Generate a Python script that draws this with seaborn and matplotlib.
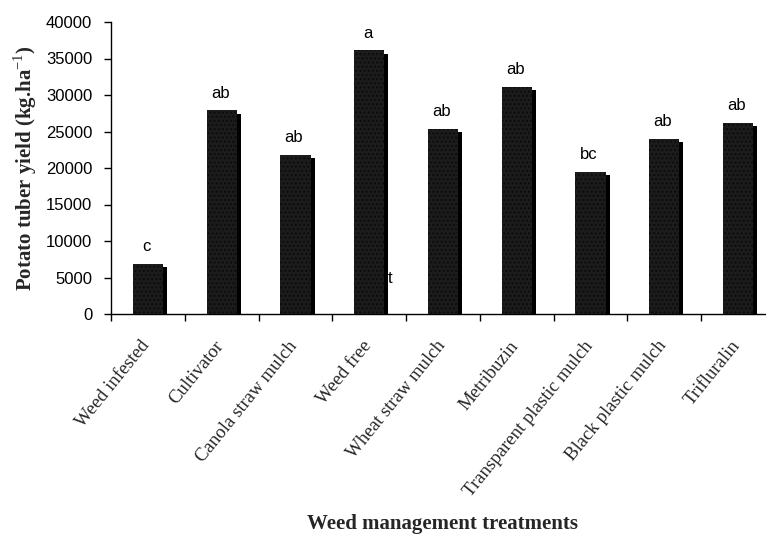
import matplotlib
matplotlib.use("Agg")
import matplotlib.pyplot as plt
import matplotlib.transforms as mtransforms
import seaborn as sns
import pandas as pd

treatments = ["Weed infested", "Cultivator", "Canola straw mulch", "Weed free",
              "Wheat straw mulch", "Metribuzin", "Transparent plastic mulch",
              "Black plastic mulch", "Trifluralin"]
yield_kg_ha = [6900, 27900, 21800, 36100, 25400, 31100, 19500, 24000, 26200]
letters = ["c", "ab", "ab", "a", "ab", "ab", "bc", "ab", "ab"]
y_ticks = [0, 5000, 10000, 15000, 20000, 25000, 30000, 35000, 40000]

df = pd.DataFrame({"treatment": treatments, "yield": yield_kg_ha})

sns.set_theme(style="ticks")
plt.rcParams["font.family"] = ["Liberation Sans", "DejaVu Sans"]
plt.rcParams["mathtext.fontset"] = "custom"
plt.rcParams["mathtext.rm"] = "Liberation Serif"
plt.rcParams["mathtext.bf"] = "Liberation Serif:bold"

fig = plt.figure(figsize=(7.66, 5.35), dpi=100)
W, H = 766, 535
left, right, bottom, top = 111, 775, 314, 22
ax = fig.add_axes([left / W, (H - bottom) / H, (right - left) / W, (bottom - top) / H])

bar_w = 0.41
# shadow bars, shifted right and down by a few pixels
shadow = mtransforms.offset_copy(ax.transData, fig=fig, x=4, y=-3.3, units="dots")
sns.barplot(data=df, x="treatment", y="yield", color="black", saturation=1,
            width=bar_w, ax=ax, linewidth=0, zorder=2)
for p in ax.patches:
    p.set_transform(shadow)
    p.set_clip_on(True)
n_shadow = len(ax.patches)
sns.barplot(data=df, x="treatment", y="yield", color="#1c1c1c", saturation=1,
            width=bar_w, ax=ax, linewidth=0, zorder=3)
for p in ax.patches[n_shadow:]:
    p.set_hatch("....")
    p.set_edgecolor("#0c0c0c")
    p.set_linewidth(0)

for i, (v, lab) in enumerate(zip(yield_kg_ha, letters)):
    ax.annotate(lab, (i, v), xytext=(-1, 7), textcoords="offset points",
                ha="center", va="bottom", fontsize=12, color="black")

ax.text(3.28, 4800, "t", fontsize=12, color="black", ha="center", va="center")

ax.set_xlim(-0.5, 8.5)
ax.set_ylim(0, 40000)
ax.set_yticks(y_ticks)
ax.set_yticklabels([str(t) for t in y_ticks], fontsize=12)
ax.set_xticks([i - 0.5 for i in range(len(treatments) + 1)])
ax.set_xticklabels([])
for i, name in enumerate(treatments):
    ax.annotate(name, (i, 0), xytext=(-5.5, -17), textcoords="offset points",
                rotation=51, ha="right", va="top", rotation_mode="anchor",
                fontsize=13.5, family="Liberation Serif", annotation_clip=False)

ax.tick_params(axis="both", direction="out", length=5, width=1, color="black",
               labelcolor="black")
ax.tick_params(axis="y", pad=8.5)
for side in ["top", "right"]:
    ax.spines[side].set_visible(False)
for side in ["left", "bottom"]:
    ax.spines[side].set_color("black")
    ax.spines[side].set_linewidth(1)
ax.grid(False)

ax.set_xlabel("")
ax.set_ylabel("Potato tuber yield (kg.ha$^{\\mathrm{-1}}$)", fontsize=15,
              fontweight="bold", family="Liberation Serif", labelpad=5)
ax_center = (left + right) / 2 / W
fig.text(ax_center, 1 - 529 / H, "Weed management treatments", fontsize=15,
         fontweight="bold", family="Liberation Serif", ha="center", va="baseline")

fig.savefig("out.png", dpi=100)
